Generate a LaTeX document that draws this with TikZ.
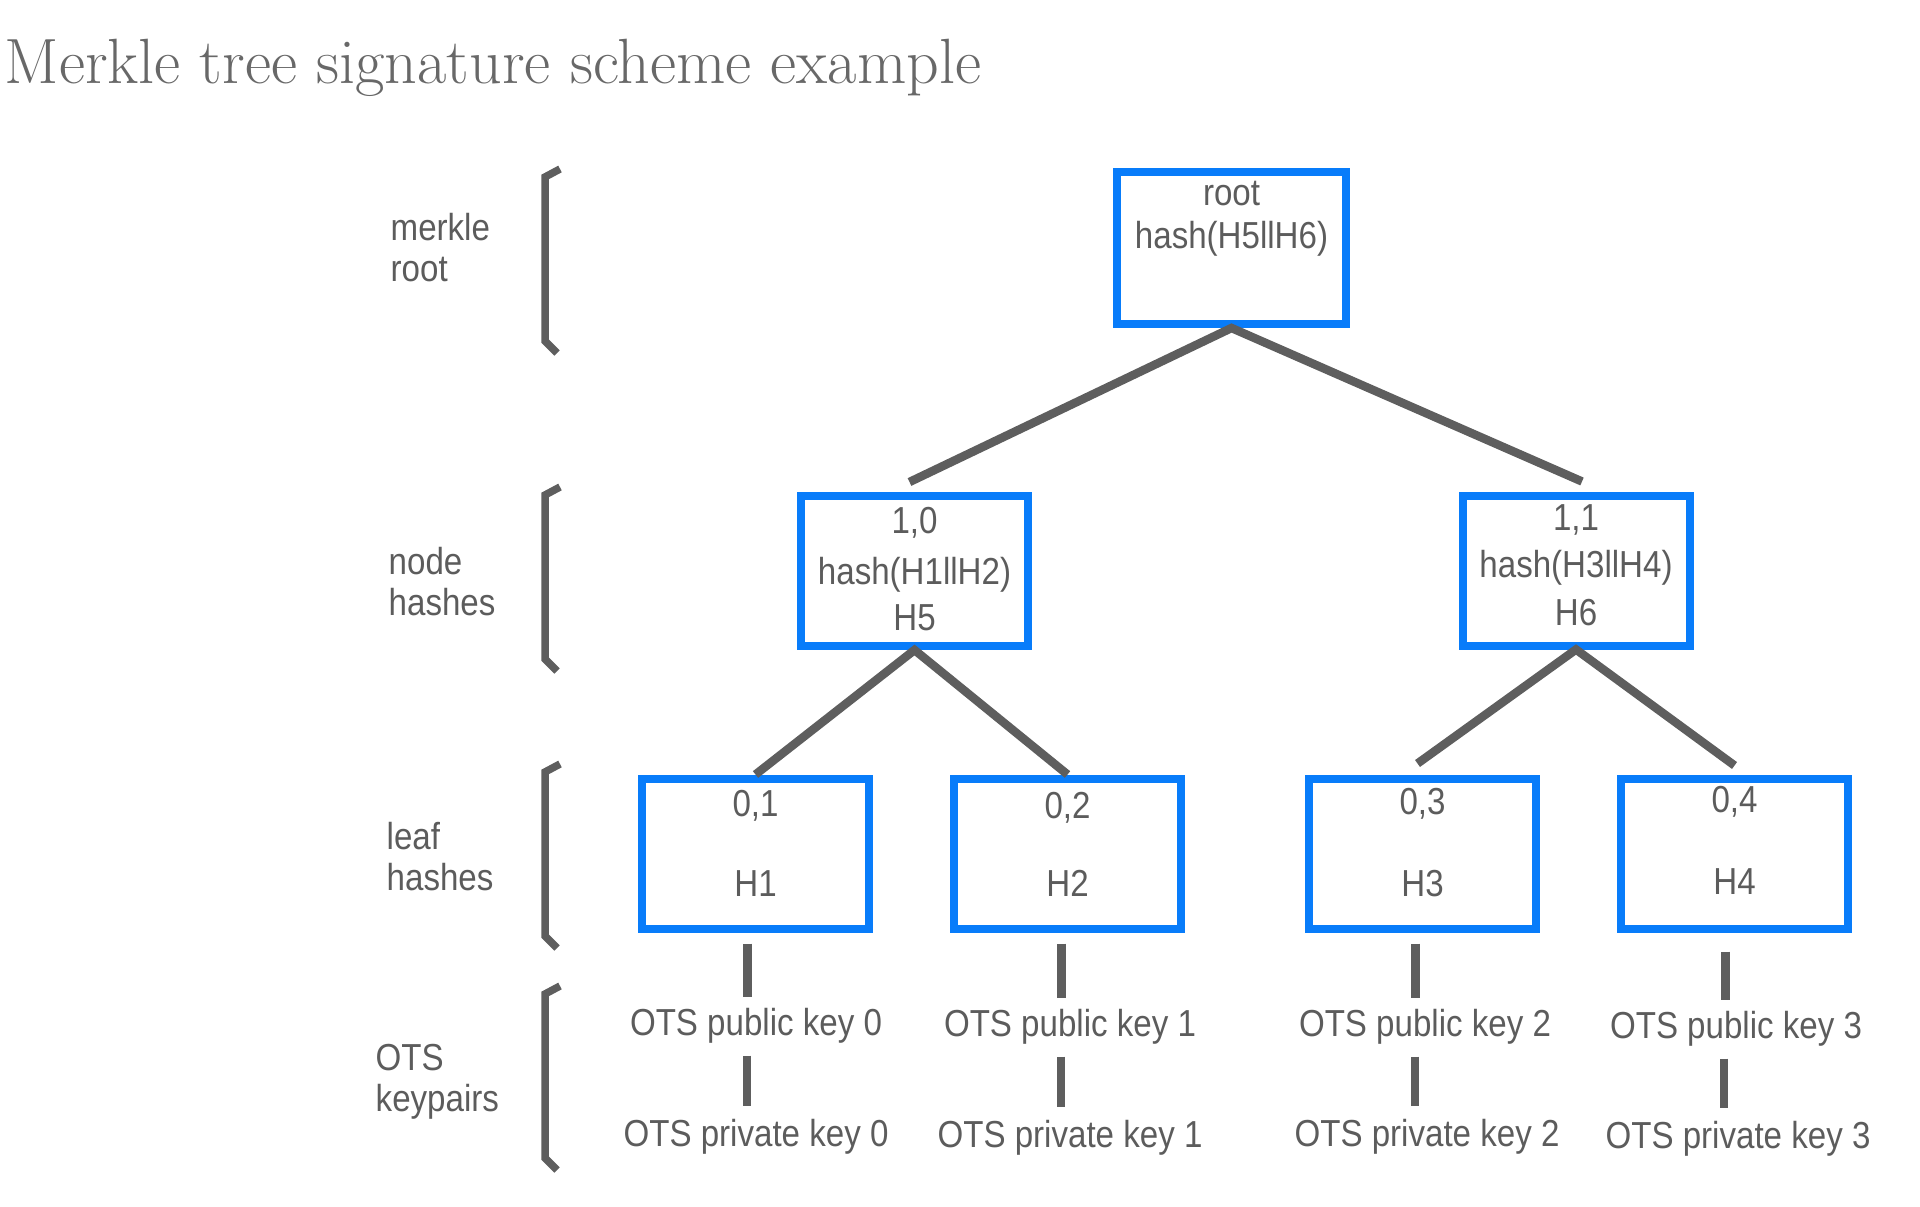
\documentclass[tikz,border=0pt]{standalone}
\usepackage{fontspec}
\usepackage{tikz}
\usetikzlibrary{positioning}

\newfontfamily\diagfont[FakeStretch=0.88]{Liberation Sans}

\definecolor{boxblue}{RGB}{8,124,250}
\definecolor{txtgray}{RGB}{92,92,92}
\definecolor{linegray}{RGB}{94,94,94}
\definecolor{titlegray}{RGB}{104,104,104}

\begin{document}
\begin{tikzpicture}[
        every node/.style={text=txtgray},
        hbox/.style={draw=boxblue,line width=0.08cm,minimum width=2.27cm,minimum height=1.50cm,inner sep=0pt},
        txt/.style={font=\diagfont\fontsize{10.7}{11.4}\selectfont,inner sep=0pt,anchor=base},
        side/.style={font=\diagfont\fontsize{10.7}{11.4}\selectfont,inner sep=0pt,align=left,anchor=north west},
        tie/.style={draw=linegray,line width=0.085cm},
        brack/.style={draw=linegray,line width=0.075cm}
    ]
    \useasboundingbox (0,0) rectangle (19.2,-12.07);

    \node [anchor=base west,inner sep=0pt,text=titlegray,font=\fontsize{18.2}{22}\selectfont]
        (title) at (0.04,-0.84) {Merkle tree signature scheme example};

    % left column
    \node (lroot) [side] at (3.90,-2.13)  {merkle\\root};
    \node (lnode) [side] at (3.88,-5.47)  {node\\hashes};
    \node (lleaf) [side] at (3.86,-8.22)  {leaf\\hashes};
    \node (lots)  [side] at (3.75,-10.44) {OTS\\keypairs};

    \draw[brack] (5.60,-1.69) -- (5.45,-1.77) -- (5.45,-3.41) -- (5.57,-3.53);
    \draw[brack] (5.60,-4.87) -- (5.45,-4.95) -- (5.45,-6.59) -- (5.57,-6.71);
    \draw[brack] (5.60,-7.64) -- (5.45,-7.72) -- (5.45,-9.36) -- (5.57,-9.48);
    \draw[brack] (5.60,-9.86) -- (5.45,-9.94) -- (5.45,-11.58) -- (5.57,-11.70);

    % tree boxes
    \node (root) [hbox,minimum width=2.29cm,minimum height=1.52cm] at (12.315,-2.48) {};
    \node (M1) [hbox] at (9.145,-5.71) {};
    \node (M2) [hbox] at (15.76,-5.705) {};
    \node (L1) [hbox] at (7.555,-8.535) {};
    \node (L2) [hbox,right=0.77cm of L1] {};
    \node (L3) [hbox,right=1.20cm of L2] {};
    \node (L4) [hbox,right=0.77cm of L3] {};

    \node (rootA) [txt] at ([yshift=-0.38cm]root.north) {root};
    \node (rootB) [txt] at ([yshift=-0.81cm]root.north) {hash(H5llH6)};

    \node (M1a) [txt] at ([yshift=-0.41cm]M1.north) {1,0};
    \node (M1b) [txt] at ([yshift=-0.92cm]M1.north) {hash(H1llH2)};
    \node (M1c) [txt] at ([yshift=-1.38cm]M1.north) {H5};
    \node (M2a) [txt] at ([yshift=-0.39cm]M2.north) {1,1};
    \node (M2b) [txt] at ([yshift=-0.86cm]M2.north) {hash(H3llH4)};
    \node (M2c) [txt] at ([yshift=-1.34cm]M2.north) {H6};

    \node (L1a) [txt] at ([yshift=-0.42cm]L1.north) {0,1};
    \node (L1b) [txt] at ([yshift=-1.22cm]L1.north) {H1};
    \node (L2a) [txt] at ([yshift=-0.44cm]L2.north) {0,2};
    \node (L2b) [txt] at ([yshift=-1.22cm]L2.north) {H2};
    \node (L3a) [txt] at ([yshift=-0.40cm]L3.north) {0,3};
    \node (L3b) [txt] at ([yshift=-1.22cm]L3.north) {H3};
    \node (L4a) [txt] at ([yshift=-0.38cm]L4.north) {0,4};
    \node (L4b) [txt] at ([yshift=-1.20cm]L4.north) {H4};

    % key pairs
    \node (P1) [txt] at (7.56,-10.35)  {OTS public key 0};
    \node (P2) [txt] at (10.70,-10.36) {OTS public key 1};
    \node (P3) [txt] at (14.25,-10.36) {OTS public key 2};
    \node (P4) [txt] at (17.36,-10.38) {OTS public key 3};
    \node (V1) [txt] at (7.56,-11.46)  {OTS private key 0};
    \node (V2) [txt] at (10.70,-11.47) {OTS private key 1};
    \node (V3) [txt] at (14.27,-11.46) {OTS private key 2};
    \node (V4) [txt] at (17.38,-11.48) {OTS private key 3};

    % connectors
    \draw[tie] ([xshift=-0.05cm,yshift=0.10cm]M1.north) -- (root.south) -- ([xshift=0.06cm,yshift=0.10cm]M2.north);
    \draw[tie] (L1.north) -- (M1.south) -- (L2.north);
    \draw[tie] ([xshift=-0.05cm,yshift=0.11cm]L3.north) -- (M2.south) -- ([yshift=0.09cm]L4.north);

    \draw[tie,shorten <=0.11cm,shorten >=0.10cm] ([xshift=-0.08cm]L1.south) -- ([xshift=-0.08cm]L1.south |- P1.north);
    \draw[tie,shorten <=0.11cm,shorten >=0.10cm] ([xshift=-0.06cm]L2.south) -- ([xshift=-0.06cm]L2.south |- P2.north);
    \draw[tie,shorten <=0.11cm,shorten >=0.10cm] ([xshift=-0.07cm]L3.south) -- ([xshift=-0.07cm]L3.south |- P3.north);
    \draw[tie,shorten <=0.19cm,shorten >=0.10cm] ([xshift=-0.09cm]L4.south) -- ([xshift=-0.09cm]L4.south |- P4.north);
    \draw[tie,shorten <=0.12cm,shorten >=0.12cm] ([xshift=-0.09cm]P1.south) -- ([xshift=-0.09cm]P1.south |- V1.north);
    \draw[tie,shorten <=0.12cm,shorten >=0.12cm] ([xshift=-0.09cm]P2.south) -- ([xshift=-0.09cm]P2.south |- V2.north);
    \draw[tie,shorten <=0.12cm,shorten >=0.12cm] ([xshift=-0.10cm]P3.south) -- ([xshift=-0.10cm]P3.south |- V3.north);
    \draw[tie,shorten <=0.12cm,shorten >=0.12cm] ([xshift=-0.12cm]P4.south) -- ([xshift=-0.12cm]P4.south |- V4.north);
\end{tikzpicture}
\end{document}
